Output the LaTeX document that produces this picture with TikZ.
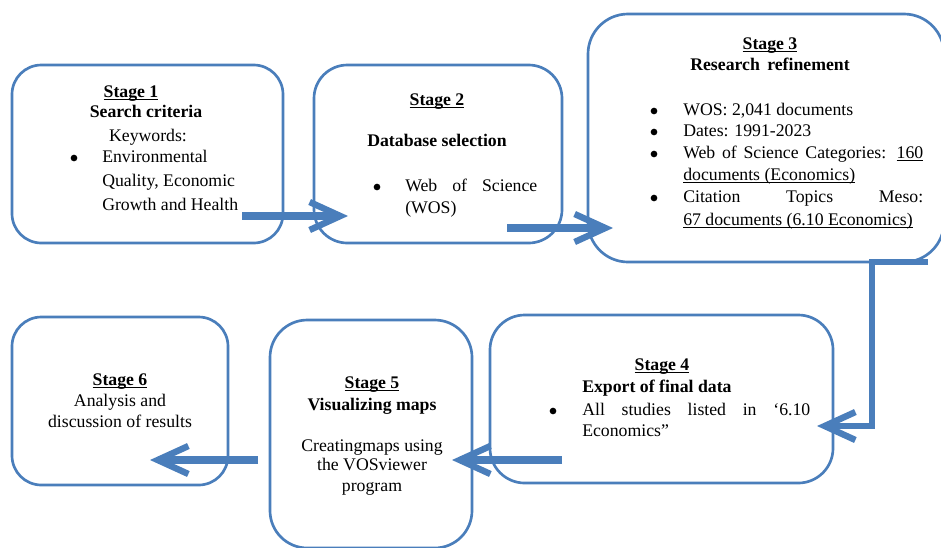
\documentclass[tikz,border=0pt]{standalone}
\usepackage{fontspec}
\setmainfont{Liberation Serif}
\usetikzlibrary{arrows.meta}
\definecolor{boxblue}{RGB}{74,126,187}
\newcommand{\stul}[1]{\setbox0\hbox{#1}\rlap{\rule[-2.3pt]{\wd0}{0.65pt}}\box0}
\begin{document}
\begin{tikzpicture}[x=0.75pt,y=-0.75pt,
  stagebox/.style={draw=boxblue, line width=2pt, rounded corners=#1, inner sep=0pt, fill=none},
  txt/.style={font=\fontsize{13.3}{16}\selectfont, inner sep=0pt, anchor=mid},
  ltxt/.style={txt, anchor=mid west},
  bul/.style={fill=black},
  flow/.style={draw=boxblue, line width=5.6pt, line join=miter,
    -{Straight Barb[length=23pt,width=21pt,line width=4.8pt]}}]
\useasboundingbox (0,0) rectangle (941,547);

% Stage boxes
\node[stagebox=22pt, minimum width=203.25pt, minimum height=133.5pt] (s1) at (147.5,154) {};
\node[stagebox=25pt, minimum width=186pt, minimum height=133.5pt] (s2) at (438,154) {};
\node[stagebox=30pt, minimum width=267pt, minimum height=186pt] (s3) at (766,138) {};
\node[stagebox=26pt, minimum width=257.25pt, minimum height=126pt] (s4) at (661.5,399) {};
\node[stagebox=28pt, minimum width=151.5pt, minimum height=171pt] (s5) at (371,434) {};
\node[stagebox=22pt, minimum width=162pt, minimum height=126pt] (s6) at (120,401) {};

% Bullets
\fill[bul] (74,158) circle[radius=2.5pt];
\fill[bul] (377,187) circle[radius=2.5pt];
\fill[bul] (654,111) circle[radius=2.5pt];
\fill[bul] (654,132) circle[radius=2.5pt];
\fill[bul] (654,154) circle[radius=2.5pt];
\fill[bul] (654,198) circle[radius=2.5pt];
\fill[bul] (553,411) circle[radius=2.5pt];

% Stage 1 text
\node[txt] (t1a) at (131,94) {\textbf{\stul{Stage 1}}};
\node[txt] (t1b) at (146,114) {\textbf{Search criteria}};
\node[txt] (t1c) at (148,138) {Keywords:};
\node[ltxt] (t1d) at (102,159) {Environmental};
\node[ltxt] (t1e) at (102,183) {Quality, Economic};
\node[ltxt] (t1f) at (102,207) {Growth and Health};

% Stage 2 text
\node[txt] (t2a) at (437,102) {\textbf{\stul{Stage 2}}};
\node[txt] (t2b) at (437,143) {\textbf{Database selection}};
\node[ltxt] (t2c) at (405,188) {\makebox[99pt][s]{Web of Science}};
\node[ltxt] (t2d) at (405,210) {(WOS)};

% Stage 3 text
\node[txt] (t3a) at (770,46) {\textbf{\stul{Stage 3}}};
\node[txt] (t3b) at (770,67) {\textbf{Research\ \,refinement}};
\node[ltxt] (t3c) at (683,112) {WOS: 2,041 documents};
\node[ltxt] (t3d) at (683,133) {Dates: 1991-2023};
\node[ltxt] (t3e) at (683,155) {\makebox[180pt][s]{Web of Science Categories: \stul{160}}};
\node[ltxt] (t3f) at (683,177) {\stul{documents (Economics)}};
\node[ltxt] (t3g) at (683,199) {\makebox[180pt][s]{Citation Topics Meso:}};
\node[ltxt] (t3h) at (683,222) {\stul{67 documents (6.10 Economics)}};

% Stage 4 text
\node[txt] (t4a) at (662,367) {\textbf{\stul{Stage 4}}};
\node[ltxt] (t4b) at (582,389) {\textbf{Export of final data}};
\node[ltxt] (t4c) at (582,412) {\makebox[171pt][s]{All studies listed in ‘6.10}};
\node[ltxt] (t4d) at (582,433) {Economics”};

% Stage 5 text
\node[txt] (t5a) at (372,385) {\textbf{\stul{Stage 5}}};
\node[txt] (t5b) at (372,407) {\textbf{Visualizing maps}};
\node[txt] (t5c) at (372,448) {Creatingmaps using};
\node[txt] (t5d) at (372,467) {the VOSviewer};
\node[txt] (t5e) at (372,488) {program};

% Stage 6 text
\node[txt] (t6a) at (120,382) {\textbf{\stul{Stage 6}}};
\node[txt] (t6b) at (120,403) {Analysis and};
\node[txt] (t6c) at (120,424) {discussion of results};

% Connector end points
\coordinate (a1s) at (242,216);
\coordinate (a1e) at (348,216);
\coordinate (a2s) at (507,228);
\coordinate (a2e) at (613,228);
\coordinate (a3s) at (928,262);
\coordinate (a3k) at (872,426);
\coordinate (a3e) at (817,426);
\coordinate (a4s) at (562,460);
\coordinate (a4e) at (452,460);
\coordinate (a5s) at (258,460);
\coordinate (a5e) at (150,460);

% Connectors
\draw[flow] (a1s) -- (a1e);
\draw[flow] (a2s) -- (a2e);
\draw[flow, line width=4.6pt] (a3s) -| (a3k) -- (a3e);
\draw[flow] (a4s) -- (a4e);
\draw[flow] (a5s) -- (a5e);
\end{tikzpicture}
\end{document}
